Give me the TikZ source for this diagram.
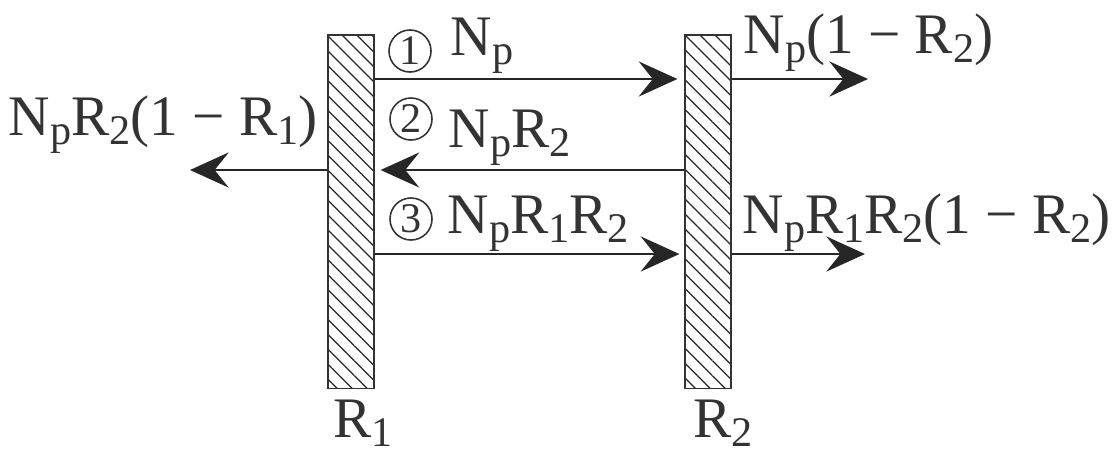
\documentclass[tikz,border=0pt]{standalone}
\usepackage{fontspec}
\setmainfont{Liberation Serif}
\usepackage{tikz}
\usetikzlibrary{positioning, arrows.meta, patterns.meta}
\newcommand{\sub}[1]{\raisebox{-2.6pt}{\fontsize{12}{12}\selectfont #1}}
\tikzset{
    mirror/.style={
        draw=black!80,
        line width=0.35pt,
        pattern={Lines[angle=-45,distance=3pt,line width=0.35pt]},
        pattern color=black!85
    },
    ray/.style={
        line width=0.6pt,
        black!85,
        -{Stealth[length=11pt,width=10pt,inset=4pt]}
    },
    lab/.style={
        anchor=base west,
        inner sep=0pt,
        text=black!80,
        font=\fontsize{16.3}{19}\selectfont
    },
    num/.style={
        circle,
        draw=black!80,
        line width=0.45pt,
        minimum size=0.42cm,
        inner sep=0pt,
        text=black!80,
        font=\fontsize{12}{12}\selectfont
    }
}
\begin{document}
\begin{tikzpicture}[x=0.01cm,y=-0.01cm]
      \useasboundingbox (0,0) rectangle (1119,454);

      % the two mirrors
      \node[mirror,minimum width=0.46cm,minimum height=3.53cm,inner sep=0pt] (m1) at (351,211.5) {};
      \node[mirror,minimum width=0.46cm,minimum height=3.53cm,inner sep=0pt] (m2) at (708,211.5) {};

      \node[lab] (r1) at (333,437) {R\sub{1}};
      \node[lab] (r2) at (693,437) {R\sub{2}};

      % beam heights
      \coordinate (b1) at (0,79);
      \coordinate (b2) at (0,170);
      \coordinate (b3) at (0,254);
      \coordinate (t1) at (868,79);
      \coordinate (t2) at (190,170);
      \coordinate (t3) at (865,254);

      \draw[ray,shorten >=0.07cm] (m1.east |- b1) -- (m2.west |- b1);
      \draw[ray] (m2.east |- b1) -- (t1);
      \draw[ray,shorten >=0.06cm] (m2.west |- b2) -- (m1.east |- b2);
      \draw[ray] (m1.west |- b2) -- (t2);
      \draw[ray,shorten >=0.05cm] (m1.east |- b3) -- (m2.west |- b3);
      \draw[ray] (m2.east |- b3) -- (t3);

      % numbered passes
      \node[num] (n1) at (410,51) {1};
      \node[num] (n2) at (411,119) {2};
      \node[num] (n3) at (411,219) {3};

      \node[lab] (l1) at (450,55) {N\sub{p}};
      \node[lab] (l2) at (448,147) {N\sub{p}R\sub{2}};
      \node[lab] (l3) at (447,233) {N\sub{p}R\sub{1}R\sub{2}};
      \node[lab] (o1) at (743,53) {N\sub{p}(1 − R\sub{2})};
      \node[lab] (o2) at (8,135) {N\sub{p}R\sub{2}(1 − R\sub{1})};
      \node[lab] (o3) at (742,233) {N\sub{p}R\sub{1}R\sub{2}(1 − R\sub{2})};

\end{tikzpicture}
\end{document}
